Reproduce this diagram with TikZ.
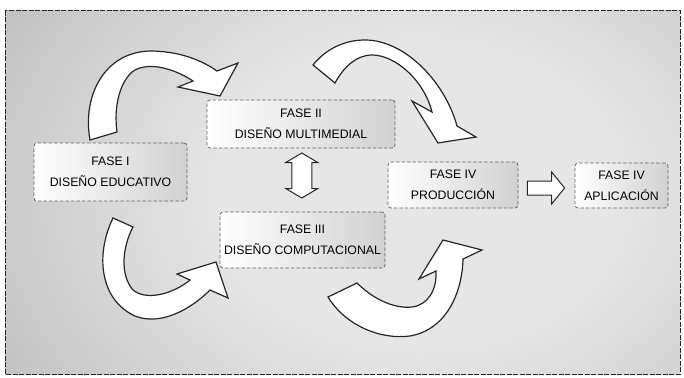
\documentclass[tikz,border=0pt]{standalone}
\usepackage{fontspec}
\setmainfont{Liberation Sans}
\usetikzlibrary{calc}
\definecolor{bgin}{HTML}{E6E6E6}
\definecolor{bgout}{HTML}{888888}
\definecolor{edge}{HTML}{262626}
\definecolor{boxedge}{HTML}{626262}
\pgfdeclareradialshading{bgglow}{\pgfpoint{0bp}{0bp}}%
  {color(0bp)=(bgin); color(9bp)=(bgin); color(42bp)=(bgout); color(50bp)=(bgout)}

\begin{document}
\begin{tikzpicture}[x=1pt,y=-1pt,
  phase/.style={draw=boxedge, dash pattern=on 3.5pt off 2pt, line width=0.8pt,
    rounded corners=3pt, left color=white, right color=black!18,
    inner sep=0pt, align=center, font=\fontsize{12.3}{21}\selectfont, text=black},
  bigarrow/.style={fill=white, draw=edge, line width=1.2pt, line join=miter},
  blockarrow/.style={fill=white, draw=edge, line width=1pt, line join=miter},
  frameline/.style={draw=edge, line width=1pt, dash pattern=on 5pt off 1.5pt}
]
\useasboundingbox (0,0) rectangle (684,377);

% grey glowing background inside the dashed frame
\begin{scope}
  \clip (5,11) rectangle (680,374);
  \fill[bgout] (5,11) rectangle (680,374);
  \shade[shading=bgglow] (420,195) ellipse [x radius=560, y radius=420];
\end{scope}
\draw[frameline] (5,11) rectangle (680,374);

% phase boxes
\node[phase, minimum width=153pt, minimum height=58pt] (f1) at (110.5,172)
  {FASE I\\DISEÑO EDUCATIVO};
\node[phase, minimum width=188pt, minimum height=48pt] (f2) at (301,124)
  {FASE II\\DISEÑO MULTIMEDIAL};
\node[phase, minimum width=165pt, minimum height=56pt] (f3) at (302.5,240)
  {FASE III\\DISEÑO COMPUTACIONAL};
\node[phase, minimum width=130pt, minimum height=46pt] (f4) at (453,185)
  {FASE IV\\PRODUCCIÓN};
\node[phase, minimum width=93pt, minimum height=45pt] (f5) at (621.5,185.5)
  {FASE IV\\APLICACIÓN};

% two-way block arrow between phase II and phase III
\coordinate (dmid) at ($(f2.south)!0.5!(f3.north)+(0,-4.5)$);
\draw[blockarrow] ([shift={(0,-22.5)}]dmid) -- ([shift={(16,-13)}]dmid)
  -- ([shift={(10,-13)}]dmid) -- ([shift={(10,13)}]dmid)
  -- ([shift={(16,13)}]dmid) -- ([shift={(0,22.5)}]dmid)
  -- ([shift={(-16,13)}]dmid) -- ([shift={(-10,13)}]dmid)
  -- ([shift={(-10,-13)}]dmid) -- ([shift={(-16,-13)}]dmid) -- cycle;

% block arrow from production to application
\coordinate (s0) at ($(f4.east)+(9,3)$);
\coordinate (s1) at ($(f5.west)+(-10,2.5)$);
\draw[blockarrow] ([shift={(0,-7)}]s0) -- ($(s1)+(-13,-7)$) -- ($(s1)+(-13,-16)$)
  -- (s1) -- ($(s1)+(-13,16)$) -- ($(s1)+(-13,7)$) -- ([shift={(0,7)}]s0) -- cycle;

% curved arrow: phase I up to phase II
\draw[bigarrow] (90,140) .. controls (82,95) and (105,52) .. (150,51)
  .. controls (180,51) and (203,61) .. (217,71)
  -- (238,63) -- (220,96) -- (178,87) -- (193,81)
  .. controls (170,66) and (145,62) .. (132,72)
  .. controls (118,85) and (114,110) .. (117,132) -- cycle;

% curved arrow: phase II over to phase IV
\draw[bigarrow] (313,65) .. controls (325,50) and (343,40) .. (365,40)
  .. controls (405,40) and (445,82) .. (457,126)
  -- (476,137) -- (438,143) -- (412,101) -- (432,112)
  .. controls (424,80) and (395,55) .. (372,55)
  .. controls (356,55) and (343,68) .. (335,83) -- cycle;

% curved arrow: phase I down to phase III
\draw[bigarrow] (113,218) .. controls (95,255) and (100,300) .. (135,316)
  .. controls (160,326) and (190,310) .. (210,290)
  -- (228,298) -- (216,262) -- (177,274) -- (190,280)
  .. controls (170,296) and (145,300) .. (133,290)
  .. controls (120,275) and (122,248) .. (133,227) -- cycle;

% curved arrow: phase III under to phase IV
\draw[bigarrow] (328,297) .. controls (345,325) and (380,340) .. (410,336)
  .. controls (445,330) and (462,295) .. (463,259)
  -- (482,250) -- (443,240) -- (419,279) -- (436,271)
  .. controls (437,290) and (428,305) .. (412,307)
  .. controls (393,309) and (372,298) .. (357,283) -- cycle;
\end{tikzpicture}
\end{document}
